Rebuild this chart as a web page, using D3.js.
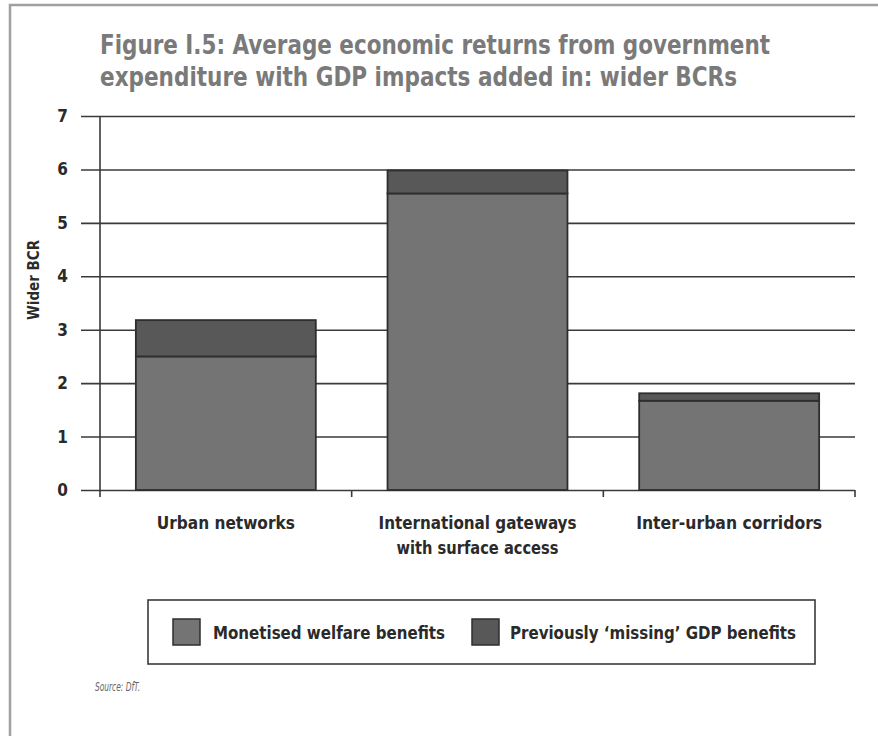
<!DOCTYPE html>
<html>
<head>
<meta charset="utf-8">
<script src="https://cdn.jsdelivr.net/npm/d3@7"></script>
<style>
  html, body { margin: 0; padding: 0; background: #fff; }
  svg { display: block; }
  text { font-family: "DejaVu Sans Condensed", "Liberation Sans Narrow", "Open Sans", sans-serif; font-weight: bold; }
</style>
</head>
<body>
<svg id="chart" width="878" height="736"></svg>
<script>
// Wider benefit-cost ratios by scheme type
const categories = ["Urban networks", "International gateways|with surface access", "Inter-urban corridors"];
const monetisedWelfare = [2.5, 5.55, 1.67];
const missingGdp = [0.68, 0.43, 0.14];
const yTicks = [0, 1, 2, 3, 4, 5, 6, 7];
const seriesNames = ["Monetised welfare benefits", "Previously \u2018missing\u2019 GDP benefits"];
const seriesColors = ["#747474", "#585858"];

const svg = d3.select("#chart");

// fit a text element to a given width
function fit(sel, w) {
  sel.each(function () {
    const len = this.getComputedTextLength();
    if (len > 0) {
      d3.select(this).attr("textLength", w).attr("lengthAdjust", "spacingAndGlyphs");
    }
  });
  return sel;
}

// outer frame
svg.append("path")
  .attr("d", "M10,740 L10,5 L880,5")
  .attr("fill", "none").attr("stroke", "#a0a0a0").attr("stroke-width", 2.5);

// title
const titleLines = ["Figure I.5: Average economic returns from government",
                    "expenditure with GDP impacts added in: wider BCRs"];
const titleWidths = [670, 637];
titleLines.forEach((t, i) => {
  svg.append("text").attr("x", 100).attr("y", 54 + i * 32)
    .attr("font-size", 27).attr("fill", "#7a7a7a").text(t)
    .call(fit, titleWidths[i]);
});

const x = d3.scaleBand().domain(categories).range([100, 855])
  .paddingInner(0.285).paddingOuter(0.1425);
const y = d3.scaleLinear().domain([0, 7]).range([490, 116]);

// gridlines + y tick labels
const yAxis = d3.axisLeft(y).tickValues(yTicks).tickFormat(d3.format("d"))
  .tickSizeInner(-(855 - 81)).tickSizeOuter(0).tickPadding(13);
const gy = svg.append("g").attr("transform", "translate(81,0)").call(yAxis);
gy.select(".domain").remove();
gy.selectAll(".tick line").attr("stroke", "#3a3a3a").attr("stroke-width", 1.6);
gy.selectAll(".tick text").attr("font-size", 17).attr("fill", "#2a2a2a")
  .style("font-family", "\"DejaVu Sans Condensed\", \"Liberation Sans Narrow\", sans-serif")
  .style("font-weight", "bold");

// vertical axis line
svg.append("line").attr("x1", 100).attr("x2", 100).attr("y1", y(7)).attr("y2", 497)
  .attr("stroke", "#3a3a3a").attr("stroke-width", 1.6);

// category boundary ticks below the axis
const step = x.step();
const bounds = categories.map(c => x(c) + x.bandwidth() + step * x.paddingInner() / 2);
bounds[bounds.length - 1] = 855;
svg.selectAll("line.btick").data(bounds).join("line").attr("class", "btick")
  .attr("x1", d => d).attr("x2", d => d).attr("y1", 490).attr("y2", 497)
  .attr("stroke", "#3a3a3a").attr("stroke-width", 1.6);

// stacked bars
const rows = categories.map((c, i) => ({ cat: c, a: monetisedWelfare[i], b: missingGdp[i] }));
const stack = d3.stack().keys(["a", "b"])(rows);
svg.append("g").selectAll("g").data(stack).join("g")
  .attr("fill", (d, i) => seriesColors[i])
  .selectAll("rect").data(d => d).join("rect")
  .attr("x", d => x(d.data.cat))
  .attr("width", x.bandwidth())
  .attr("y", d => y(d[1]))
  .attr("height", d => y(d[0]) - y(d[1]))
  .attr("stroke", "#2e2e2e").attr("stroke-width", 1.8);

// category labels
const catWidths = [[138], [198, 162], [186]];
categories.forEach((c, i) => {
  c.split("|").forEach((line, j) => {
    svg.append("text").attr("x", x(c) + x.bandwidth() / 2).attr("y", 529 + j * 25)
      .attr("text-anchor", "middle").attr("font-size", 17).attr("fill", "#2a2a2a")
      .text(line).call(fit, catWidths[i][j]);
  });
});

// y axis title
svg.append("text").attr("transform", "translate(39,280) rotate(-90)")
  .attr("text-anchor", "middle").attr("font-size", 16).attr("fill", "#2a2a2a")
  .text("Wider BCR").call(fit, 80);

// legend
const lg = svg.append("g");
lg.append("rect").attr("x", 148).attr("y", 600).attr("width", 667).attr("height", 64)
  .attr("fill", "#fff").attr("stroke", "#3a3a3a").attr("stroke-width", 1.6);
const legendItems = [
  { sx: 173, tx: 213, w: 232 },
  { sx: 472, tx: 510, w: 286 }
];
legendItems.forEach((it, i) => {
  lg.append("rect").attr("x", it.sx).attr("y", 619).attr("width", 27).attr("height", 26)
    .attr("fill", seriesColors[i]).attr("stroke", "#2e2e2e").attr("stroke-width", 1.5);
  lg.append("text").attr("x", it.tx).attr("y", 639).attr("font-size", 18)
    .attr("fill", "#2a2a2a").text(seriesNames[i]).call(fit, it.w);
});

// source note
svg.append("text").attr("x", 95).attr("y", 691).attr("font-size", 12)
  .attr("font-style", "italic").style("font-weight", "normal").attr("fill", "#666")
  .text("Source: DfT.").call(fit, 45);
</script>
</body>
</html>
